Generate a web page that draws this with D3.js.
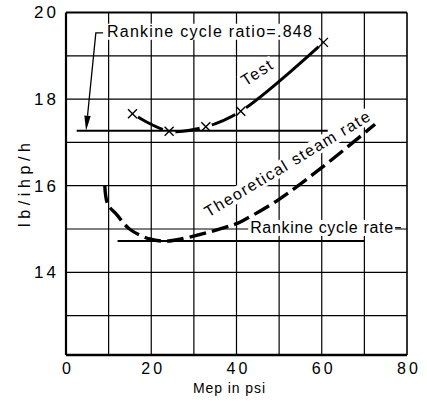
<!DOCTYPE html>
<html><head><meta charset="utf-8">
<script src="https://cdn.jsdelivr.net/npm/d3@7"></script>
<style>html,body{margin:0;padding:0;background:#fff}svg{display:block}</style>
</head><body>
<script>
// ---- data ----
const xTicks = [0, 20, 40, 60, 80];
const yTicks = [14, 16, 18, 20];
const xGrid = [10, 20, 30, 40, 50, 60, 70];
const yGrid = [13, 14, 15, 16, 17, 18, 19];
const testX = [15.6, 24.2, 32.8, 41.0, 60.4];
const testY = [17.66, 17.26, 17.36, 17.72, 19.31];
const theoX = [9.1, 9.8, 11.9, 14.9, 19.6, 23.5, 28.9, 39.9, 42.2, 49.9, 59.9, 72.5];
const theoY = [16.0, 15.57, 15.33, 15.0, 14.77, 14.72, 14.81, 15.12, 15.23, 15.68, 16.41, 17.42];
const ratioLineX = [2.5, 61.4];
const ratioLineY = 17.27;
const rateLineX = [12.1, 70];
const rateLineY = 14.72;
const leaderX = [8.7, 7.0, 4.7];
const leaderY = [19.53, 19.53, 17.27];
const labelRatio = "Rankine cycle ratio=.848";
const labelRate = "Rankine cycle rate";
const labelTheo = "Theoretical steam rate";
const labelTest = "Test";
const xTitle = "Mep in psi";
const yTitle = "lb/ihp/h";

// ---- layout ----
const W = 427, H = 401;
const svg = d3.select("body").append("svg").attr("width", W).attr("height", H);
const x = d3.scaleLinear().domain([0, 80]).range([66, 407]);
const y = d3.scaleLinear().domain([12.09, 20]).range([355, 12.5]);
const FONT = "'Liberation Sans', Arial, sans-serif";

// grid
const g = svg.append("g");
g.selectAll(".vg").data(xGrid).join("line")
  .attr("x1", d => x(d)).attr("x2", d => x(d)).attr("y1", y(20)).attr("y2", y(12.09))
  .attr("stroke", "#000").attr("stroke-width", 1.2);
g.selectAll(".hg").data(yGrid).join("line")
  .attr("y1", d => y(d)).attr("y2", d => y(d)).attr("x1", x(0)).attr("x2", x(80))
  .attr("stroke", "#000").attr("stroke-width", 1.2);

// axes (labels only, frame drawn separately)
const xAxis = svg.append("g").attr("transform", `translate(0,${y(12.09)})`)
  .call(d3.axisBottom(x).tickValues(xTicks).tickSize(0).tickPadding(8).tickFormat(d3.format("d")));
xAxis.select(".domain").remove();
xAxis.selectAll("text").attr("font-family", FONT).attr("font-size", 16).attr("letter-spacing", 3)
  .attr("dx", 1.5).attr("fill", "#000");
const yAxis = svg.append("g").attr("transform", `translate(${x(0)},0)`)
  .call(d3.axisLeft(y).tickValues(yTicks).tickSize(0).tickPadding(7).tickFormat(d3.format("d")));
yAxis.select(".domain").remove();
yAxis.selectAll("text").attr("font-family", FONT).attr("font-size", 17).attr("letter-spacing", 3)
  .attr("fill", "#000");

// frame
const frame = svg.append("g").attr("stroke", "#000").attr("fill", "none");
frame.append("line").attr("x1", x(0)).attr("x2", x(80)).attr("y1", y(20)).attr("y2", y(20)).attr("stroke-width", 2);
frame.append("line").attr("x1", x(0)).attr("x2", x(80)).attr("y1", y(12.09)).attr("y2", y(12.09)).attr("stroke-width", 2.6);
frame.append("line").attr("x1", x(0)).attr("x2", x(0)).attr("y1", y(20)).attr("y2", y(12.09)).attr("stroke-width", 2.2);
frame.append("line").attr("x1", x(80)).attr("x2", x(80)).attr("y1", y(20)).attr("y2", y(12.09)).attr("stroke-width", 1.6);

// helper: text with white background
function label(txt, px, py, opts) {
  const grp = svg.append("g").attr("transform", `translate(${px},${py}) rotate(${opts.rot || 0})`);
  const bg = grp.append("rect").attr("fill", "#fff");
  const t = grp.append("text").text(txt).attr("font-family", FONT).attr("font-size", opts.size || 16)
    .attr("fill", "#000").attr("text-anchor", opts.anchor || "start");
  if (opts.baseline) t.attr("dominant-baseline", opts.baseline);
  if (opts.len) t.attr("textLength", opts.len).attr("lengthAdjust", "spacing");
  const b = t.node().getBBox();
  bg.attr("x", b.x - 2).attr("y", b.y + 1).attr("width", b.width + 4).attr("height", b.height - 1);
  return grp;
}

// labels (backgrounds hide the grid, not the curves)
label(labelRatio, x(9.6), y(19.44), { size: 16, len: 205 });
label(labelRate, x(43.2), y(14.91), { size: 16, len: 143 });
svg.append("line").attr("x1", x(77.2)).attr("x2", x(78.6)).attr("y1", y(15.03)).attr("y2", y(15.03))
  .attr("stroke", "#000").attr("stroke-width", 1.2);
label(labelTheo, 287, 164, { size: 16, rot: -31, anchor: "middle", baseline: "central", len: 190 });
label(labelTest, 256.7, 72.7, { size: 16, rot: -33, anchor: "middle", baseline: "central", len: 34 });

// Rankine reference lines
svg.append("line").attr("x1", x(ratioLineX[0])).attr("x2", x(ratioLineX[1]))
  .attr("y1", y(ratioLineY)).attr("y2", y(ratioLineY)).attr("stroke", "#000").attr("stroke-width", 2);
svg.append("line").attr("x1", x(rateLineX[0])).attr("x2", x(rateLineX[1]))
  .attr("y1", y(rateLineY)).attr("y2", y(rateLineY)).attr("stroke", "#000").attr("stroke-width", 2);

// Theoretical steam rate (dashed)
const theoLine = d3.line().x((d, i) => x(theoX[i])).y((d, i) => y(theoY[i])).curve(d3.curveCatmullRom.alpha(0.5));
svg.append("path").attr("d", theoLine(theoX)).attr("fill", "none").attr("stroke", "#000")
  .attr("stroke-width", 3.4).attr("stroke-dasharray", "17,6");

// Test curve with gaps at markers
const mask = svg.append("defs").append("mask").attr("id", "gapmask").attr("maskUnits", "userSpaceOnUse");
mask.append("rect").attr("x", 0).attr("y", 0).attr("width", W).attr("height", H).attr("fill", "#fff");
mask.selectAll("circle").data(testX).join("circle")
  .attr("cx", (d, i) => x(testX[i])).attr("cy", (d, i) => y(testY[i])).attr("r", 6.5).attr("fill", "#000");
const testLine = d3.line().x((d, i) => x(testX[i])).y((d, i) => y(testY[i])).curve(d3.curveCatmullRom.alpha(0.5));
svg.append("path").attr("d", testLine(testX)).attr("fill", "none").attr("stroke", "#000")
  .attr("stroke-width", 3).attr("mask", "url(#gapmask)");
const mk = svg.append("g").attr("stroke", "#000").attr("stroke-width", 1.4);
testX.forEach((v, i) => {
  const cx = x(v), cy = y(testY[i]), s = 4.5;
  mk.append("line").attr("x1", cx - s).attr("y1", cy - s).attr("x2", cx + s).attr("y2", cy + s);
  mk.append("line").attr("x1", cx - s).attr("y1", cy + s).attr("x2", cx + s).attr("y2", cy - s);
});

// leader with arrow
const lp = leaderX.map((v, i) => [x(v), y(leaderY[i])]);
const tip = lp[2], corner = lp[1];
const dx = tip[0] - corner[0], dy = tip[1] - corner[1], L = Math.hypot(dx, dy);
const ux = dx / L, uy = dy / L, aLen = 15, aW = 3.2;
const base = [tip[0] - ux * aLen, tip[1] - uy * aLen];
svg.append("path").attr("d", d3.line()([lp[0], lp[1], base])).attr("fill", "none")
  .attr("stroke", "#000").attr("stroke-width", 1.3);
svg.append("path").attr("d", d3.line()([tip, [base[0] - uy * aW, base[1] + ux * aW], [base[0] + uy * aW, base[1] - ux * aW]]) + "Z")
  .attr("fill", "#000");

// axis titles
svg.append("text").text(xTitle).attr("x", 229).attr("y", 393).attr("text-anchor", "middle")
  .attr("font-family", FONT).attr("font-size", 14).attr("textLength", 72).attr("lengthAdjust", "spacing");
svg.append("text").text(yTitle).attr("transform", "translate(30,185) rotate(-90)").attr("text-anchor", "middle")
  .attr("font-family", FONT).attr("font-size", 16).attr("textLength", 84).attr("lengthAdjust", "spacing");
</script>
</body></html>
